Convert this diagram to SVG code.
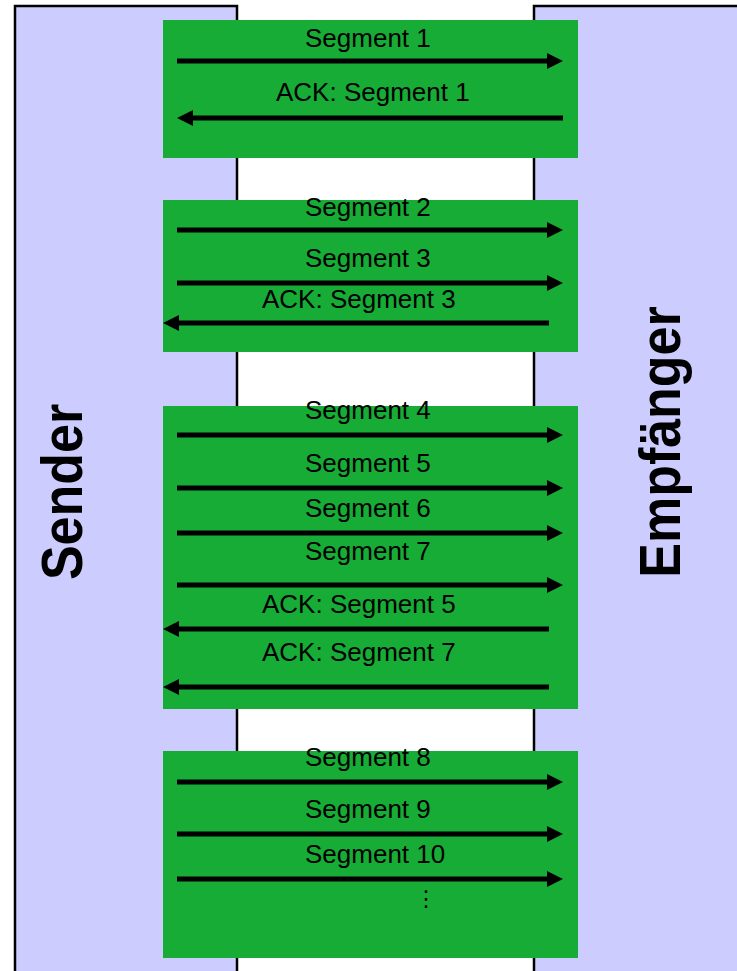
<svg xmlns="http://www.w3.org/2000/svg" width="737" height="971" viewBox="0 0 737 971">
<defs>
<style>
.side{fill:#CCCCFF;stroke:#000;stroke-width:2.5}
.box{fill:#16AC35}
.lbl{font-family:"Liberation Sans",Arial,sans-serif;font-size:26px;fill:#000}
.title{font-family:"Liberation Sans",Arial,sans-serif;font-size:52px;font-weight:bold;fill:#000;text-anchor:middle}
.arr{stroke:#000;stroke-width:5;fill:none}
</style>
<marker id="ah" markerUnits="userSpaceOnUse" markerWidth="17" markerHeight="17" refX="0" refY="8" orient="auto" overflow="visible">
<path d="M0,0 L16,8 L0,16 Z" fill="#000"/>
</marker>
</defs>
<g id="sender">
<rect class="side" x="15" y="6" width="222" height="980"/>
<text class="title" transform="translate(82,492) rotate(-90) scale(1,1.12)">Sender</text>
</g>
<g id="empfaenger">
<rect class="side" x="534" y="6" width="220" height="980"/>
<text class="title" transform="translate(680,442) rotate(-90) scale(1,1.12)">Empfänger</text>
</g>
<g id="block1">
<rect class="box" x="163" y="20" width="415" height="138"/>
</g>
<g id="block2">
<rect class="box" x="163" y="200" width="415" height="152"/>
</g>
<g id="block3">
<rect class="box" x="163" y="406" width="415" height="303"/>
</g>
<g id="block4">
<rect class="box" x="163" y="751" width="415" height="207"/>
<text class="lbl" x="426" y="906" text-anchor="middle" style="font-family:'DejaVu Sans',sans-serif;font-size:22px">⋮</text>
</g>
<g id="connectors">
<line class="arr" x1="177" y1="61" x2="547" y2="61" marker-end="url(#ah)"/>
<line class="arr" x1="563" y1="118" x2="193" y2="118" marker-end="url(#ah)"/>
<line class="arr" x1="177" y1="230" x2="547" y2="230" marker-end="url(#ah)"/>
<line class="arr" x1="177" y1="283" x2="547" y2="283" marker-end="url(#ah)"/>
<line class="arr" x1="549" y1="323" x2="179" y2="323" marker-end="url(#ah)"/>
<line class="arr" x1="177" y1="435" x2="547" y2="435" marker-end="url(#ah)"/>
<line class="arr" x1="177" y1="488" x2="547" y2="488" marker-end="url(#ah)"/>
<line class="arr" x1="177" y1="533" x2="547" y2="533" marker-end="url(#ah)"/>
<line class="arr" x1="177" y1="585" x2="547" y2="585" marker-end="url(#ah)"/>
<line class="arr" x1="549" y1="629" x2="179" y2="629" marker-end="url(#ah)"/>
<line class="arr" x1="549" y1="687" x2="179" y2="687" marker-end="url(#ah)"/>
<line class="arr" x1="177" y1="782" x2="547" y2="782" marker-end="url(#ah)"/>
<line class="arr" x1="177" y1="834" x2="547" y2="834" marker-end="url(#ah)"/>
<line class="arr" x1="177" y1="879" x2="547" y2="879" marker-end="url(#ah)"/>
</g>
<g id="labels">
<text class="lbl" x="305" y="47">Segment 1</text>
<text class="lbl" x="276" y="101">ACK: Segment 1</text>
<text class="lbl" x="305" y="216">Segment 2</text>
<text class="lbl" x="305" y="267">Segment 3</text>
<text class="lbl" x="262" y="308">ACK: Segment 3</text>
<text class="lbl" x="305" y="419">Segment 4</text>
<text class="lbl" x="305" y="472">Segment 5</text>
<text class="lbl" x="305" y="517">Segment 6</text>
<text class="lbl" x="305" y="560">Segment 7</text>
<text class="lbl" x="262" y="613">ACK: Segment 5</text>
<text class="lbl" x="262" y="661">ACK: Segment 7</text>
<text class="lbl" x="305" y="766">Segment 8</text>
<text class="lbl" x="305" y="818">Segment 9</text>
<text class="lbl" x="305" y="863">Segment 10</text>
</g>
</svg>
